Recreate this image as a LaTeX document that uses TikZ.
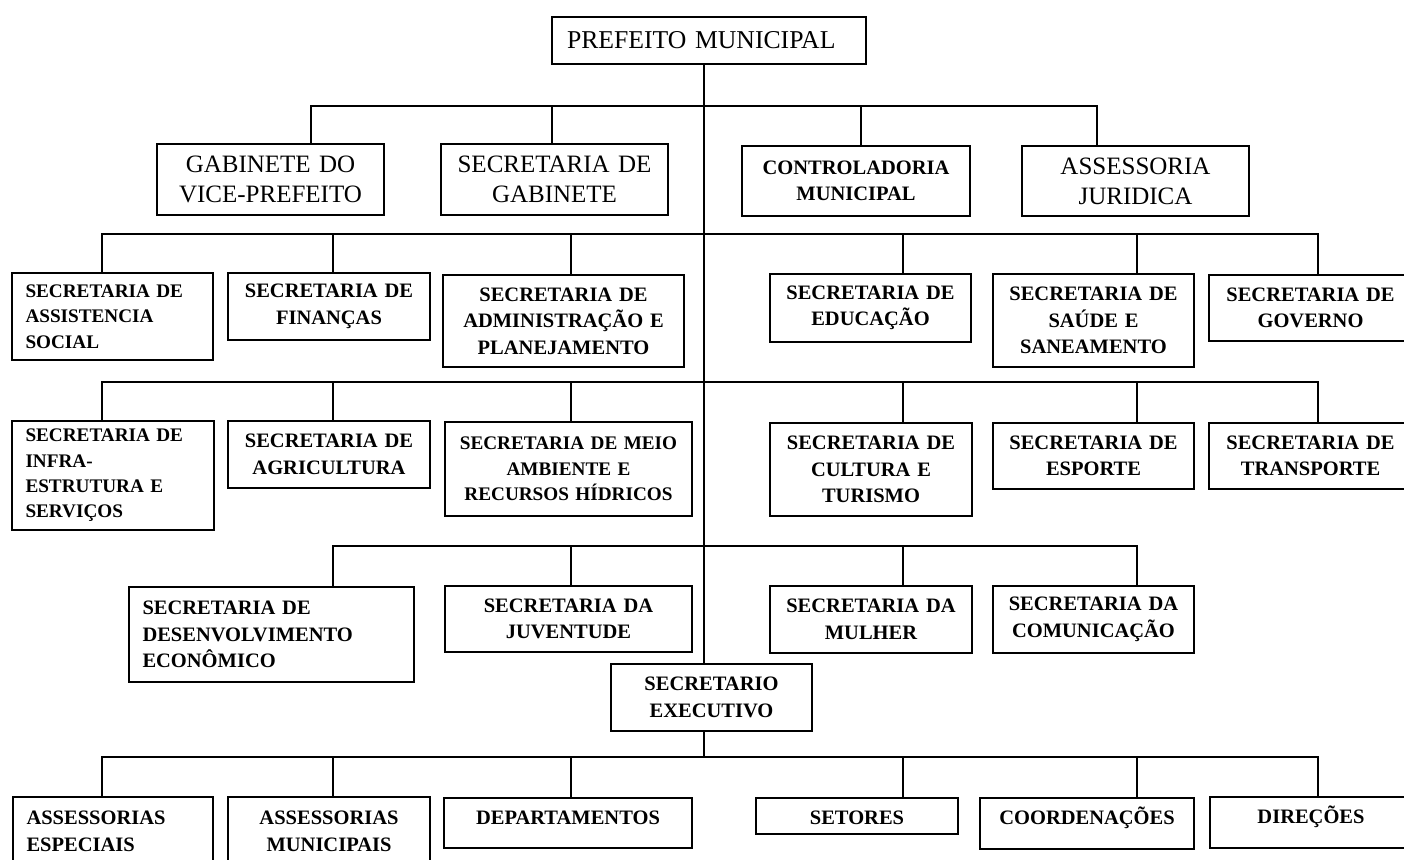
\documentclass[tikz,border=0pt]{standalone}
\usepackage{fontspec}
\setmainfont{Liberation Serif}
\tikzset{
  bx/.style={draw=black, line width=1.6pt, inner sep=0pt, fill=white},
  ctr/.style={align=center},
  lft/.style={align=left},
  bold/.style={font=\fontsize{20.5}{26.5}\selectfont\bfseries},
  boldsm/.style={font=\fontsize{19.2}{25.3}\selectfont\bfseries},
  reg/.style={font=\fontsize{25}{30}\selectfont},
  regtop/.style={font=\fontsize{25.7}{30}\selectfont},
  conn/.style={draw=black, line width=2.6pt, line join=miter},
  raise/.style={text height=13.6pt, text depth=11.5pt},
  lower/.style={text height=17.6pt, text depth=0pt}
}
\newcommand\obox[7]{%
  \pgfmathsetmacro\obw{#5-#3}%
  \pgfmathsetmacro\obh{#6-#4}%
  \pgfmathsetmacro\obt{#5-#3-27}%
  \pgfmathsetmacro\obx{(#3+#5)/2}%
  \pgfmathsetmacro\oby{(#4+#6)/2}%
  \node[bx, minimum width=\obw pt, minimum height=\obh pt, text width=\obt pt, #2] (#1) at (\obx,\oby) {#7};}
\begin{document}
\begin{tikzpicture}[x=1pt, y=-1pt]
\useasboundingbox (0,0) rectangle (1404,859);
\clip (0,0) rectangle (1404,859);
\fill[white] (0,0) rectangle (1404,859);

% boxes
\obox{pref}{regtop,lft}{552}{17}{866}{64}{\hspace*{1.5pt}PREFEITO MUNICIPAL}
\obox{gab}{reg,ctr}{157}{144}{384}{215}{GABINETE DO\\VICE-PREFEITO}
\obox{sgab}{reg,ctr}{441}{144}{668}{215}{SECRETARIA DE\\GABINETE}
\obox{ctrl}{bold,ctr}{742}{146}{970}{216}{CONTROLADORIA\\MUNICIPAL}
\obox{jur}{reg,ctr}{1022}{146}{1249}{216}{ASSESSORIA\\JURIDICA}

\obox{assist}{boldsm,lft}{12}{273}{213}{360}{SECRETARIA DE\\ASSISTENCIA\\SOCIAL}
\obox{fin}{bold,ctr}{228}{273}{430}{340}{SECRETARIA DE\\FINANÇAS}
\obox{adm}{bold,ctr}{443}{275}{684}{367}{SECRETARIA DE\\ADMINISTRAÇÃO E\\PLANEJAMENTO}
\obox{educ}{bold,ctr}{770}{274}{971}{342}{SECRETARIA DE\\EDUCAÇÃO}
\obox{saude}{bold,ctr}{993}{274}{1194}{367}{SECRETARIA DE\\SAÚDE E\\SANEAMENTO}
\obox{gov}{bold,ctr}{1209}{275}{1412}{341}{SECRETARIA DE\\GOVERNO}

\obox{infra}{boldsm,lft}{12}{421}{214}{530}{SECRETARIA DE\\INFRA-\\ESTRUTURA E\\SERVIÇOS}
\obox{agri}{bold,ctr}{228}{421}{430}{488}{SECRETARIA DE\\AGRICULTURA}
\obox{meio}{boldsm,ctr}{445}{422}{692}{516}{SECRETARIA DE MEIO\\AMBIENTE E\\RECURSOS HÍDRICOS}
\obox{cult}{bold,ctr}{770}{423}{972}{516}{SECRETARIA DE\\CULTURA E\\TURISMO}
\obox{esp}{bold,ctr}{993}{423}{1194}{489}{SECRETARIA DE\\ESPORTE}
\obox{transp}{bold,ctr}{1209}{423}{1412}{489}{SECRETARIA DE\\TRANSPORTE}

\obox{desenv}{bold,lft}{129}{587}{414}{682}{SECRETARIA DE\\DESENVOLVIMENTO\\ECONÔMICO}
\obox{juv}{bold,ctr}{445}{586}{692}{652}{SECRETARIA DA\\JUVENTUDE}
\obox{mulher}{bold,ctr}{770}{586}{972}{653}{SECRETARIA DA\\MULHER}
\obox{comun}{bold,ctr}{993}{586}{1194}{653}{SECRETARIA DA\\COMUNICAÇÃO}
\obox{secex}{bold,ctr}{611}{664}{812}{731}{SECRETARIO\\EXECUTIVO}

\obox{aesp}{bold,lft}{13}{797}{213}{866}{ASSESSORIAS\\ESPECIAIS}
\obox{amun}{bold,ctr}{228}{797}{430}{866}{ASSESSORIAS\\MUNICIPAIS}
\obox{dept}{bold,ctr,raise}{444}{798}{692}{848}{DEPARTAMENTOS}
\obox{setor}{bold,ctr,lower}{756}{798}{958}{834}{SETORES}
\obox{coord}{bold,ctr,raise}{980}{798}{1194}{849}{COORDENAÇÕES}
\obox{dir}{bold,ctr,raise}{1210}{797}{1412}{848}{DIREÇÕES}

% bus junction points
\coordinate (tr) at (704,0);
\coordinate (b1a) at (311,106);
\coordinate (b1b) at (552,106);
\coordinate (b1c) at (861,106);
\coordinate (b1d) at (1097,106);
\foreach \n/\y in {2/234,3/382,5/757}{
  \coordinate (b\n a) at (102,\y);
  \coordinate (b\n b) at (333,\y);
  \coordinate (b\n c) at (571,\y);
  \coordinate (b\n d) at (903,\y);
  \coordinate (b\n e) at (1137,\y);
  \coordinate (b\n f) at (1318,\y);
}
\coordinate (b4b) at (333,546);
\coordinate (b4c) at (571,546);
\coordinate (b4d) at (903,546);
\coordinate (b4e) at (1137,546);

% trunk
\draw[conn] (pref.south -| tr) -- (secex.north -| tr);
\draw[conn] (secex.south -| tr) -- (b5a -| tr);

% level 1
\draw[conn] (gab.north -| b1a) -- (b1a) -- (b1d) -- (jur.north -| b1d);
\draw[conn] (b1b) -- (sgab.north -| b1b);
\draw[conn] (b1c) -- (ctrl.north -| b1c);

% level 2
\draw[conn] (assist.north -| b2a) -- (b2a) -- (b2f) -- (gov.north -| b2f);
\draw[conn] (b2b) -- (fin.north -| b2b);
\draw[conn] (b2c) -- (adm.north -| b2c);
\draw[conn] (b2d) -- (educ.north -| b2d);
\draw[conn] (b2e) -- (saude.north -| b2e);

% level 3
\draw[conn] (infra.north -| b3a) -- (b3a) -- (b3f) -- (transp.north -| b3f);
\draw[conn] (b3b) -- (agri.north -| b3b);
\draw[conn] (b3c) -- (meio.north -| b3c);
\draw[conn] (b3d) -- (cult.north -| b3d);
\draw[conn] (b3e) -- (esp.north -| b3e);

% level 4
\draw[conn] (desenv.north -| b4b) -- (b4b) -- (b4e) -- (comun.north -| b4e);
\draw[conn] (b4c) -- (juv.north -| b4c);
\draw[conn] (b4d) -- (mulher.north -| b4d);

% level 5
\draw[conn] (aesp.north -| b5a) -- (b5a) -- (b5f) -- (dir.north -| b5f);
\draw[conn] (b5b) -- (amun.north -| b5b);
\draw[conn] (b5c) -- (dept.north -| b5c);
\draw[conn] (b5d) -- (setor.north -| b5d);
\draw[conn] (b5e) -- (coord.north -| b5e);
\end{tikzpicture}
\end{document}
